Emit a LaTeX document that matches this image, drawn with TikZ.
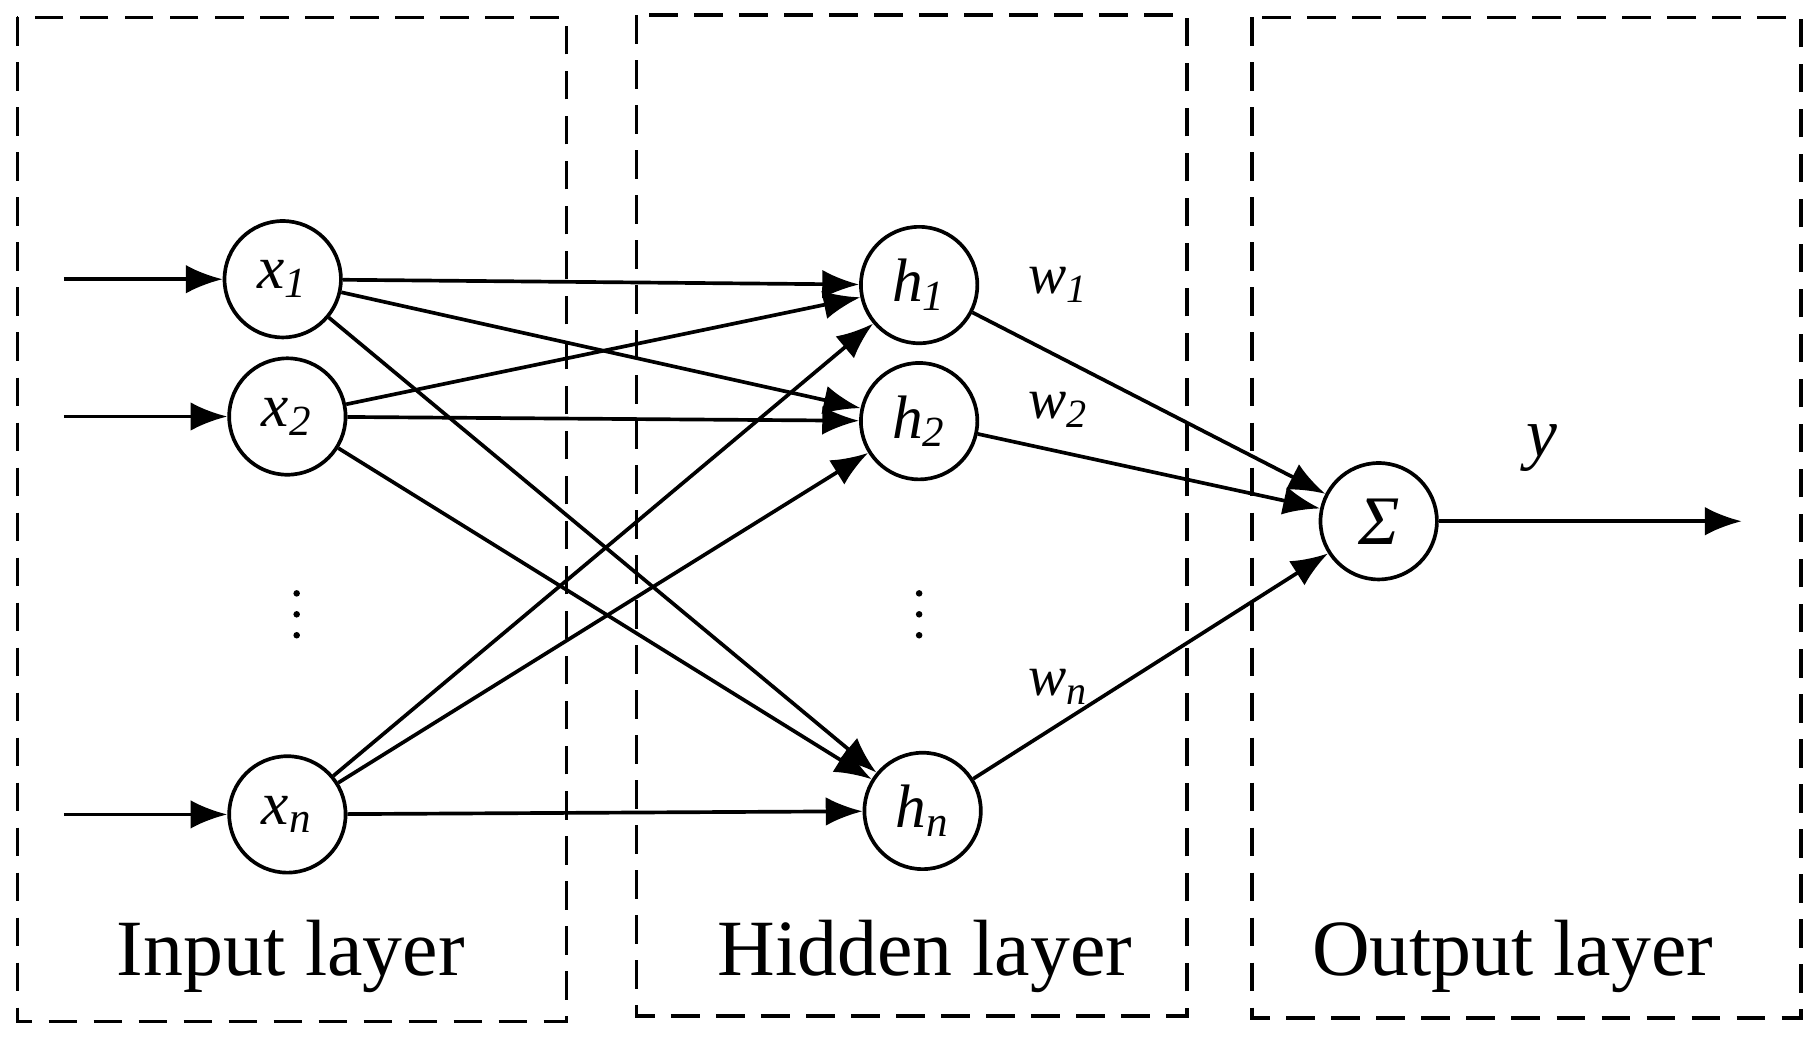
\documentclass[tikz,border=0pt]{standalone}
\usepackage{fontspec}
\setmainfont{Liberation Serif}
\usetikzlibrary{arrows.meta}
\begin{document}
\begin{tikzpicture}[x=0.01cm,y=-0.01cm,
  neu/.style={circle,draw,line width=0.9pt,minimum size=1.0cm,inner sep=0pt,font=\fontsize{15}{15}\selectfont\itshape},
  box/.style={draw,line width=0.9pt,dash pattern=on 7pt off 4pt},
  ed/.style={line width=0.9pt,-{Latex[length=9pt,width=7pt]}},
  lay/.style={font=\fontsize{19.5}{19.5}\selectfont},
  wl/.style={font=\fontsize{14}{14}\selectfont\itshape},
  dot/.style={fill,circle,inner sep=0pt,minimum size=1.6pt}]
\useasboundingbox (0,0) rectangle (1560,891);
\draw[box] (15,15) rectangle (487,878);
\draw[box] (547,13) rectangle (1020,873);
\draw[box] (1076,15) rectangle (1548,875);
\node[neu] (x1) at (243,240) {x\textsubscript{1}};
\node[neu] (x2) at (247,358) {x\textsubscript{2}};
\node[neu] (xn) at (247,700) {x\textsubscript{n}};
\node[neu] (h1) at (790,245) {h\textsubscript{1}};
\node[neu] (h2) at (790,362) {h\textsubscript{2}};
\node[neu] (hn) at (793,697) {h\textsubscript{n}};
\node[neu,font=\fontsize{17}{17}\selectfont\itshape] (s) at (1185,448) {Σ};
\coordinate (i1) at (55,240); \coordinate (i2) at (55,358); \coordinate (in) at (55,700);
\coordinate (o) at (1497,448);
\draw[ed] (i1) -- (x1); \draw[ed] (i2) -- (x2); \draw[ed] (in) -- (xn);
\foreach \a in {x1,x2,xn}{\foreach \b in {h1,h2,hn}{\draw[ed] (\a) -- (\b);}}
\draw[ed] (h1) -- (s); \draw[ed] (h2) -- (s); \draw[ed] (hn) -- (s);
\draw[ed] (s) -- (o);
\node[wl] (w1) at (910,245) {w\textsubscript{1}};
\node[wl] (w2) at (910,352) {w\textsubscript{2}};
\node[wl] (wn) at (910,590) {w\textsubscript{n}};
\node[font=\fontsize{17}{17}\selectfont\itshape] (y) at (1325,385) {y};
\foreach \yy in {510,528,546}{\node[dot] at (255,\yy) {}; \node[dot] at (790,\yy) {};}
\node[lay] (l1) at (250,822) {Input layer};
\node[lay] (l2) at (795,822) {Hidden layer};
\node[lay] (l3) at (1300,822) {Output layer};
\end{tikzpicture}
\end{document}
